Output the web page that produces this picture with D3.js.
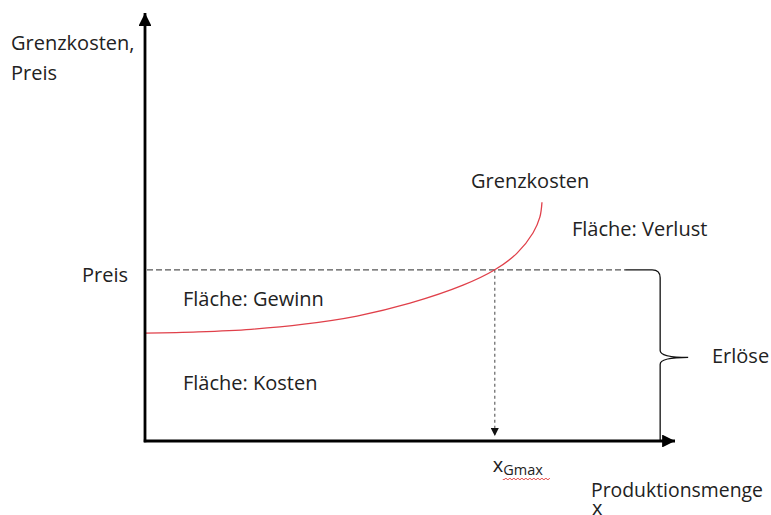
<!DOCTYPE html>
<html>
<head>
<meta charset="utf-8">
<script src="https://cdn.jsdelivr.net/npm/d3@7"></script>
<style>
html,body{margin:0;padding:0;background:#fff;}
svg text{font-family:"Open Sans",sans-serif;fill:#222;}
</style>
</head>
<body>
<svg id="chart" width="771" height="515"></svg>
<script>
// ---- data (abstract units) ----
const curveX = [0, 1, 2, 3, 4, 5, 6, 6.6, 7.02, 7.32, 7.45, 7.49];
const curveY = [2.52, 2.55, 2.61, 2.73, 2.92, 3.22, 3.64, 4.0, 4.39, 4.86, 5.23, 5.58];
const preis = 4.0;
const xGmax = 6.6;
const erloeseX = 9.72;
const xMax = 10;
const yMax = 10;

const svg = d3.select("#chart");
const x = d3.scaleLinear().domain([0, xMax]).range([145, 675]);
const y = d3.scaleLinear().domain([0, yMax]).range([441, 13]);

const defs = svg.append("defs");
defs.append("marker").attr("id","arrowBig").attr("viewBox","0 0 10 10")
  .attr("refX",10).attr("refY",5).attr("markerWidth",4.6).attr("markerHeight",4.6)
  .attr("markerUnits","strokeWidth").attr("orient","auto")
  .append("path").attr("d","M0,0 L10,5 L0,10 Z").attr("fill","#000");
defs.append("marker").attr("id","arrowSmall").attr("viewBox","0 0 10 10")
  .attr("refX",10).attr("refY",5).attr("markerWidth",10).attr("markerHeight",8)
  .attr("markerUnits","userSpaceOnUse").attr("orient","auto")
  .append("path").attr("d","M0,0 L10,5 L0,10 Z").attr("fill","#111");

// dashed price line
svg.append("line")
  .attr("x1", x(0)+2).attr("x2", x(erloeseX)-35)
  .attr("y1", y(preis)).attr("y2", y(preis))
  .attr("stroke","#555").attr("stroke-width",1.2).attr("stroke-dasharray","6,3");

// dotted vertical line to x axis
svg.append("line")
  .attr("x1", x(xGmax)).attr("x2", x(xGmax))
  .attr("y1", y(preis)).attr("y2", y(0)-5)
  .attr("stroke","#555").attr("stroke-width",1.1).attr("stroke-dasharray","3,3")
  .attr("marker-end","url(#arrowSmall)");

// curly brace (Erlöse)
const bx = x(erloeseX), bTop = y(preis), bBot = y(0), bMid = (bTop + bBot)/2 + 2;
const brace = d3.path();
brace.moveTo(bx - 35, bTop);
brace.lineTo(bx - 8, bTop);
brace.quadraticCurveTo(bx, bTop, bx, bTop + 8);
brace.lineTo(bx, bMid - 7);
brace.quadraticCurveTo(bx, bMid, bx + 28, bMid);
brace.quadraticCurveTo(bx, bMid, bx, bMid + 7);
brace.lineTo(bx, bBot);
svg.append("path").attr("d", brace.toString())
  .attr("fill","none").attr("stroke","#111").attr("stroke-width",1.3);

// Grenzkosten curve
const pts = curveX.map((v,i)=>[v, curveY[i]]);
svg.append("path").datum(pts)
  .attr("d", d3.line().x(d=>x(d[0])).y(d=>y(d[1])).curve(d3.curveCatmullRom.alpha(0.5)))
  .attr("fill","none").attr("stroke","#e0404a").attr("stroke-width",1.3);

// axes
svg.append("line").attr("x1", x(0)).attr("x2", x(0))
  .attr("y1", y(0)+1.2).attr("y2", y(yMax))
  .attr("stroke","#000").attr("stroke-width",2.8).attr("marker-end","url(#arrowBig)");
svg.append("line").attr("x1", x(0)-1.2).attr("x2", x(xMax))
  .attr("y1", y(0)).attr("y2", y(0))
  .attr("stroke","#000").attr("stroke-width",2.8).attr("marker-end","url(#arrowBig)");

// labels
const fs = 20;
function t(txt, px, py, size) {
  return svg.append("text").attr("x", px).attr("y", py)
    .attr("font-size", size || fs).text(txt);
}
t("Grenzkosten,", 11, 50);
t("Preis", 11, 80);
t("Preis", 82, 282);
t("Fläche: Gewinn", 183, 306);
t("Fläche: Kosten", 183, 390);
t("Grenzkosten", 471, 188);
t("Fläche: Verlust", 572, 236);
t("Erlöse", 712, 363);
t("Produktionsmenge", 591, 497, 19.4);
t("x", 592, 515);

// x_Gmax
const xg = svg.append("text").attr("x", x(xGmax)-2).attr("y", 472).attr("font-size", fs);
xg.append("tspan").text("x");
xg.append("tspan").attr("dy", 3).attr("font-size", 14.5).text("Gmax");
// spell-check squiggle
const sq = d3.path();
const sx0 = x(xGmax)+8, sx1 = x(xGmax)+55, sy = 479;
sq.moveTo(sx0, sy);
for (let k = sx0; k < sx1; k += 2) sq.lineTo(k + 1, sy + ((Math.round((k - sx0)/2)) % 2 ? -1 : 1));
svg.append("path").attr("d", sq.toString()).attr("fill","none")
  .attr("stroke","#e03030").attr("stroke-width",0.9);
</script>
</body>
</html>
